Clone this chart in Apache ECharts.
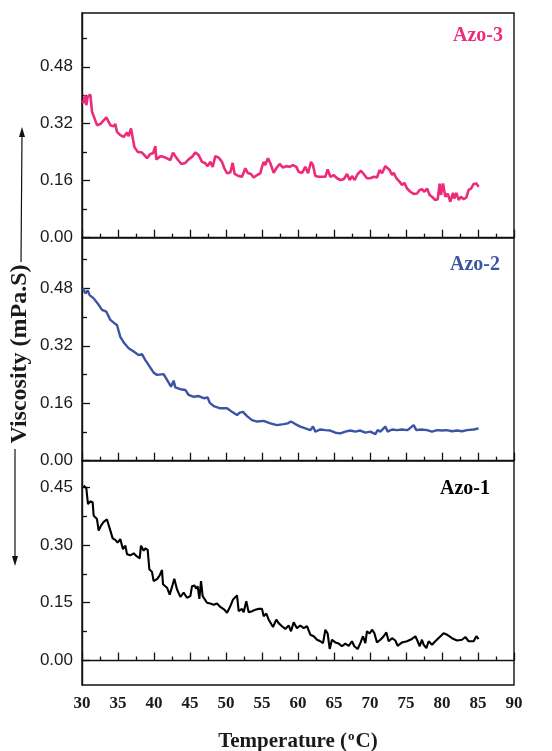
<!DOCTYPE html>
<html>
<head>
<meta charset="utf-8">
<script src="https://cdn.jsdelivr.net/npm/echarts@6/dist/echarts.min.js"></script>
<style>html,body{margin:0;padding:0;background:#fff}#c{width:552px;height:751px}</style>
</head>
<body>
<div id="c"></div>
<script>
// ---- data ----
const xTicks = [30, 35, 40, 45, 50, 55, 60, 65, 70, 75, 80, 85, 90];
const yTicksTop = [0, 0.16, 0.32, 0.48];
const yMinorTop = [0.08, 0.24, 0.40, 0.56];
const yTicksBottom = [0, 0.15, 0.30, 0.45];
const yMinorBottom = [0.075, 0.225, 0.375];

const azo3T = [30.14,30.46,30.60,30.79,31.16,31.39,32.08,32.55,33.38,33.94,34.40,34.63,34.86,35.32,35.79,36.25,36.48,36.81,37.08,37.27,37.73,38.33,38.66,39.03,39.49,39.86,40.19,40.32,40.88,41.34,41.81,42.27,42.64,42.96,43.43,43.80,44.35,44.81,45.28,45.74,46.20,46.67,47.13,47.45,47.82,48.15,48.52,48.98,49.44,49.77,50.14,50.60,50.93,51.20,51.76,52.22,52.69,53.01,53.47,53.84,54.31,54.77,55.00,55.23,55.46,55.83,56.16,56.62,56.99,57.45,57.92,58.38,58.84,59.31,59.77,60.09,60.56,61.02,61.39,61.81,62.08,62.41,62.87,63.33,63.80,64.12,64.49,64.95,65.42,65.88,66.34,66.81,67.18,67.50,67.87,68.29,68.75,69.12,69.58,70.05,70.51,70.97,71.34,71.67,72.13,72.36,72.73,73.06,73.29,73.66,74.12,74.44,74.77,75.14,75.60,76.06,76.53,76.90,77.22,77.55,77.92,78.29,78.61,79.07,79.40,79.68,79.86,80.14,80.46,80.79,81.16,81.53,81.71,81.99,82.31,82.64,83.01,83.38,83.70,84.03,84.40,84.77,85.09];
const azo3V = [0.377,0.400,0.372,0.396,0.402,0.354,0.316,0.319,0.338,0.316,0.313,0.319,0.297,0.288,0.283,0.295,0.285,0.307,0.309,0.255,0.241,0.239,0.232,0.223,0.235,0.237,0.257,0.220,0.229,0.227,0.223,0.218,0.239,0.229,0.216,0.207,0.210,0.220,0.227,0.239,0.232,0.213,0.209,0.201,0.213,0.199,0.229,0.225,0.213,0.195,0.181,0.183,0.210,0.179,0.173,0.171,0.195,0.182,0.179,0.169,0.176,0.181,0.199,0.213,0.204,0.223,0.209,0.182,0.195,0.207,0.197,0.201,0.199,0.204,0.199,0.185,0.182,0.199,0.181,0.213,0.204,0.173,0.171,0.171,0.171,0.192,0.171,0.176,0.167,0.162,0.164,0.179,0.162,0.173,0.162,0.179,0.188,0.179,0.167,0.167,0.171,0.169,0.190,0.181,0.201,0.204,0.190,0.176,0.182,0.167,0.157,0.148,0.154,0.138,0.129,0.123,0.124,0.134,0.136,0.129,0.138,0.120,0.115,0.106,0.108,0.152,0.120,0.152,0.115,0.124,0.101,0.126,0.110,0.126,0.106,0.115,0.108,0.113,0.134,0.138,0.151,0.152,0.143];

const azo2T = [30.14,30.46,30.79,31.06,31.62,32.31,32.78,33.38,33.94,34.49,34.86,35.32,35.88,36.48,37.18,37.87,38.33,38.80,39.40,39.95,40.42,41.34,41.81,42.36,42.73,42.96,43.66,44.35,44.81,45.51,46.20,46.90,47.45,47.73,48.29,49.21,50.14,50.83,51.53,51.90,52.36,52.92,53.61,54.31,55.23,56.16,57.08,58.01,58.56,59.03,59.63,60.32,61.02,61.71,62.08,62.41,63.10,63.80,64.49,65.19,65.88,66.57,67.27,67.96,68.66,69.35,70.05,70.74,71.06,71.44,72.13,72.45,73.06,73.75,74.44,75.14,75.51,76.06,76.44,77.08,77.92,78.61,79.31,80.00,80.69,81.39,82.08,82.78,83.47,84.40,85.09];
const azo2V = [0.480,0.466,0.474,0.461,0.452,0.434,0.420,0.415,0.392,0.383,0.378,0.345,0.327,0.313,0.304,0.294,0.297,0.280,0.262,0.245,0.239,0.241,0.225,0.206,0.223,0.204,0.199,0.197,0.183,0.178,0.180,0.174,0.176,0.162,0.152,0.146,0.146,0.136,0.127,0.134,0.136,0.124,0.113,0.109,0.111,0.104,0.099,0.102,0.104,0.109,0.102,0.095,0.090,0.085,0.095,0.081,0.087,0.085,0.084,0.078,0.076,0.081,0.084,0.081,0.084,0.078,0.081,0.074,0.085,0.081,0.095,0.081,0.087,0.085,0.087,0.085,0.090,0.099,0.085,0.087,0.085,0.081,0.085,0.084,0.085,0.082,0.084,0.082,0.085,0.087,0.090];

const azo1T = [30.23,30.60,30.83,31.16,31.48,31.62,32.08,32.31,32.64,33.01,33.47,33.94,34.26,34.63,34.95,35.32,35.69,36.02,36.25,36.71,37.18,37.64,38.01,38.19,38.56,38.80,39.12,39.35,39.72,39.95,40.42,40.79,41.11,41.25,41.81,42.18,42.50,42.82,43.19,43.66,44.12,44.58,45.05,45.28,45.60,45.88,46.06,46.30,46.53,46.76,46.99,47.36,47.82,48.29,48.75,49.21,49.77,50.14,50.60,50.97,51.53,51.76,52.22,52.45,52.82,53.15,53.61,54.07,54.54,55.00,55.23,55.60,55.93,56.53,56.99,57.31,57.78,58.24,58.70,59.03,59.40,59.86,60.32,60.79,61.25,61.71,62.18,62.64,63.10,63.47,63.80,64.12,64.40,64.72,65.19,65.65,66.11,66.57,67.04,67.50,67.82,68.29,68.66,69.03,69.35,69.58,69.95,70.28,70.60,70.97,71.44,71.90,72.27,72.59,73.06,73.52,73.84,74.44,75.14,75.83,76.30,76.62,76.90,77.22,77.45,77.82,78.15,78.61,79.07,79.68,80.23,80.69,81.39,82.08,82.78,83.24,83.70,84.40,84.77,85.09];
const azo1V = [0.454,0.447,0.406,0.413,0.411,0.376,0.367,0.337,0.350,0.360,0.366,0.337,0.317,0.313,0.306,0.315,0.289,0.298,0.276,0.273,0.278,0.270,0.265,0.298,0.285,0.291,0.287,0.237,0.230,0.206,0.211,0.221,0.235,0.198,0.189,0.171,0.191,0.212,0.185,0.165,0.176,0.163,0.167,0.193,0.195,0.186,0.193,0.160,0.206,0.167,0.171,0.150,0.148,0.145,0.148,0.139,0.132,0.124,0.141,0.158,0.169,0.128,0.134,0.125,0.154,0.125,0.128,0.132,0.134,0.134,0.115,0.122,0.106,0.087,0.106,0.097,0.089,0.082,0.091,0.076,0.099,0.084,0.091,0.084,0.089,0.067,0.063,0.054,0.050,0.045,0.080,0.070,0.030,0.054,0.047,0.044,0.037,0.044,0.038,0.050,0.037,0.030,0.045,0.063,0.045,0.076,0.070,0.080,0.071,0.047,0.054,0.063,0.073,0.050,0.058,0.052,0.038,0.047,0.050,0.056,0.063,0.050,0.037,0.054,0.041,0.032,0.050,0.041,0.050,0.061,0.071,0.067,0.058,0.052,0.054,0.061,0.050,0.050,0.063,0.056];

const seriesNames = ['Azo-3', 'Azo-2', 'Azo-1'];
const seriesColors = ['#EE2A7B', '#3A55A4', '#000000'];

// ---- chart ----
const zip = (t, v) => t.map((x, i) => [x, v[i]]);
const INK = '#111';
const SERIF = '"Liberation Serif", "DejaVu Serif", serif';
const L = 82, R = 38;
const grids = [
  {left: L, right: R, top: 13, height: 224.7},
  {left: L, right: R, top: 237.7, height: 223},
  {left: L, right: R, top: 460.7, height: 224.3}
].map(g => Object.assign(g, {show: true, borderColor: INK, borderWidth: 1.4, backgroundColor: 'transparent',
  containLabel: false, outerBoundsMode: 'none'}));

function xAx(i, labels) {
  return {
    type: 'value', gridIndex: i, min: 30, max: 90, interval: 5,
    axisLine: {show: true, lineStyle: {color: INK, width: 1.4}},
    axisTick: {show: true, inside: true, length: 8, lineStyle: {color: INK, width: 1.3}},
    minorTick: {show: true, splitNumber: 2, length: 4, lineStyle: {color: INK, width: 1.3}},
    splitLine: {show: false},
    axisLabel: {show: labels, margin: 10, fontFamily: SERIF, fontWeight: 'bold', fontSize: 17, color: '#1a1a1a',
      customValues: xTicks},
    name: labels ? 'Temperature ({s|o}C)' : '',
    nameLocation: 'middle', nameGap: 45,
    nameTextStyle: {fontFamily: SERIF, fontWeight: 'bold', fontSize: 21, color: '#1a1a1a',
      rich: {s: {fontFamily: SERIF, fontWeight: 'bold', fontSize: 13, color: '#1a1a1a', padding: [0, 1, 10, 1]}}}
  };
}
function yMaj(i, min, max, ticks) {
  return {
    type: 'value', gridIndex: i, min: min, max: max, position: 'left', offset: 0,
    axisLine: {show: true, lineStyle: {color: INK, width: 1.4}},
    axisTick: {show: true, inside: true, length: 8, customValues: ticks, lineStyle: {color: INK, width: 1.3}},
    axisLabel: {show: true, margin: 9, customValues: ticks, fontFamily: 'Liberation Sans', fontSize: 17, color: '#1a1a1a',
      formatter: v => v.toFixed(2)},
    splitLine: {show: false}
  };
}
function yMin(i, min, max, ticks) {
  return {
    type: 'value', gridIndex: i, min: min, max: max, position: 'left', offset: 0,
    axisLine: {show: false},
    axisTick: {show: true, inside: true, length: 5, customValues: ticks, lineStyle: {color: INK, width: 1.3}},
    axisLabel: {show: false},
    splitLine: {show: false}
  };
}

const opt = {
  animation: false,
  grid: grids,
  xAxis: [xAx(0, false), xAx(1, false), xAx(2, true)],
  yAxis: [
    yMaj(0, 0, 0.631, yTicksTop), yMin(0, 0, 0.631, yMinorTop),
    yMaj(1, 0, 0.621, yTicksTop), yMin(1, 0, 0.621, yMinorTop),
    yMaj(2, -0.0635, 0.5185, yTicksBottom), yMin(2, -0.0635, 0.5185, yMinorBottom)
  ],
  series: [
    {name: seriesNames[0], type: 'line', xAxisIndex: 0, yAxisIndex: 0, data: zip(azo3T, azo3V), showSymbol: false,
      lineStyle: {color: seriesColors[0], width: 2.6}},
    {name: seriesNames[1], type: 'line', xAxisIndex: 1, yAxisIndex: 2, data: zip(azo2T, azo2V), showSymbol: false,
      lineStyle: {color: seriesColors[1], width: 2.4}},
    {name: seriesNames[2], type: 'line', xAxisIndex: 2, yAxisIndex: 4, data: zip(azo1T, azo1V), showSymbol: false,
      lineStyle: {color: seriesColors[2], width: 2.1}}
  ],
  graphic: [
    {type: 'text', x: 478, y: 36, style: {text: seriesNames[0], fill: seriesColors[0], font: 'bold 20px ' + SERIF, align: 'center', verticalAlign: 'middle'}},
    {type: 'text', x: 475, y: 265, style: {text: seriesNames[1], fill: seriesColors[1], font: 'bold 20px ' + SERIF, align: 'center', verticalAlign: 'middle'}},
    {type: 'text', x: 465, y: 489, style: {text: seriesNames[2], fill: seriesColors[2], font: 'bold 20px ' + SERIF, align: 'center', verticalAlign: 'middle'}},
    {type: 'text', x: 20, y: 354, rotation: Math.PI / 2,
      style: {text: 'Viscosity (mPa.S)', fill: '#1a1a1a', font: 'bold 24px ' + SERIF, align: 'center', verticalAlign: 'middle'}},
    {type: 'line', shape: {x1: 22, y1: 135, x2: 21, y2: 262}, style: {stroke: INK, lineWidth: 1.2}},
    {type: 'polygon', shape: {points: [[22, 127], [19, 137], [25, 137]]}, style: {fill: INK}},
    {type: 'line', shape: {x1: 15, y1: 449, x2: 15, y2: 558}, style: {stroke: INK, lineWidth: 1.2}},
    {type: 'polygon', shape: {points: [[15, 566], [12, 556], [18, 556]]}, style: {fill: INK}}
  ]
};
const chart = echarts.init(document.getElementById('c'), null, {renderer: 'canvas'});
chart.setOption(opt);
</script>
</body>
</html>
